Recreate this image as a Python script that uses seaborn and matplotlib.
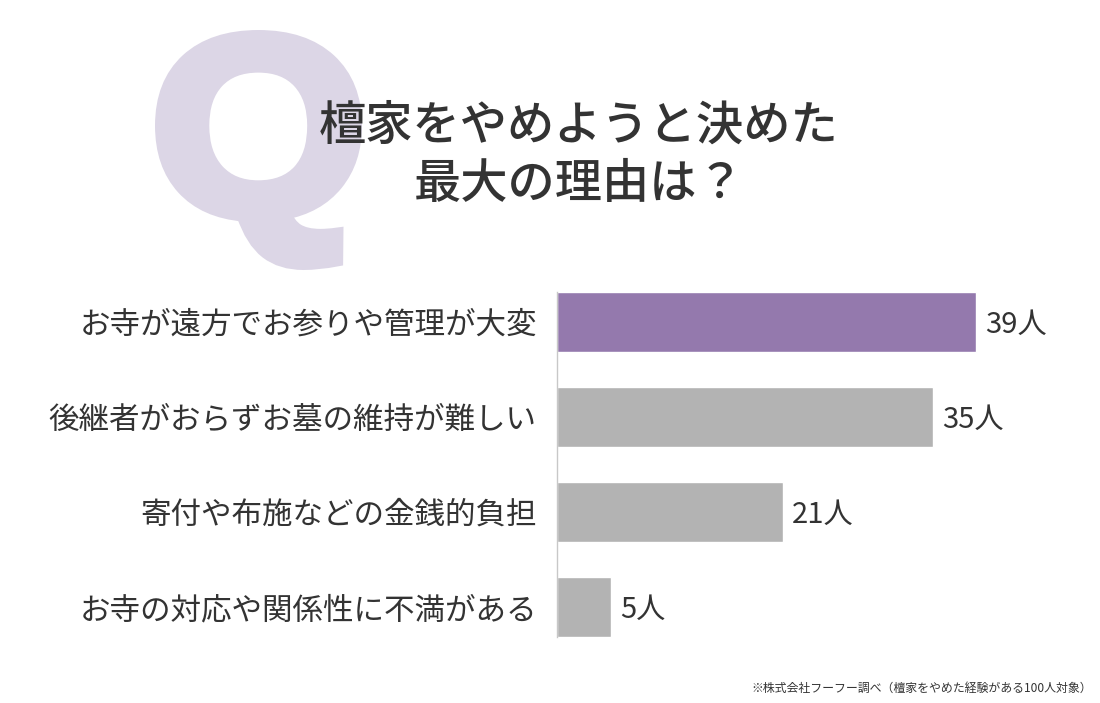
import seaborn as sns
import matplotlib.pyplot as plt
import pandas as pd
from matplotlib.textpath import TextPath
from matplotlib.patches import PathPatch
from matplotlib.font_manager import FontProperties
from matplotlib.transforms import Affine2D

# データ
reasons = [
    "お寺が遠方でお参りや管理が大変",
    "後継者がおらずお墓の維持が難しい",
    "寄付や布施などの金銭的負担",
    "お寺の対応や関係性に不満がある",
]
counts = [39, 35, 21, 5]
value_labels = ["39人", "35人", "21人", "5人"]
title_text = "檀家をやめようと決めた\n最大の理由は？"
source_text = "※株式会社フーフー調べ（檀家をやめた経験がある100人対象）"

bar_colors = ["#9479ad", "#b3b3b3", "#b3b3b3", "#b3b3b3"]
text_color = "#333333"
q_color = "#dcd6e6"

sns.set_theme(style="white")
plt.rcParams['font.family'] = ['Noto Sans CJK JP', 'DejaVu Sans']

W, H = 1100, 703
fig = plt.figure(figsize=(W / 100, H / 100), dpi=100)
fig.patch.set_facecolor("white")

# 大きな「Q」 (背景の飾り) - 輪郭線で太らせる
qpath = TextPath((0, 0), "Q", size=100,
                 prop=FontProperties(family="Liberation Sans", weight="bold"))
ext = qpath.get_extents()
grow = 7  # 線幅の半分 (px)
qx0, qx1, qy0, qy1 = 155 + grow, 362 - grow, 30 + grow, 270 - grow
tr = (Affine2D()
      .translate(-ext.x0, -ext.y0)
      .scale((qx1 - qx0) / ext.width, (qy1 - qy0) / ext.height)
      .translate(qx0, H - qy1)
      .scale(1 / W, 1 / H))
fig.patches.append(PathPatch(tr.transform_path(qpath), facecolor=q_color,
                             edgecolor=q_color, linewidth=grow * 2 * 0.72,
                             joinstyle="miter",
                             transform=fig.transFigure, zorder=0))

# タイトル
fig.text(579 / W, 1 - 155 / H, title_text, ha="center", va="center",
         fontsize=34, color=text_color, fontweight="medium",
         linespacing=1.25, zorder=2)

# 棒グラフ
ax = fig.add_axes([557 / W, 1 - 654.5 / H, 537 / W, 380 / H])
df = pd.DataFrame({"reason": reasons, "count": counts})
sns.barplot(data=df, x="count", y="reason", hue="reason", palette=bar_colors,
            width=0.63, legend=False, ax=ax, saturation=1)

ax.set_xlim(0, 50)
ax.set_ylim(3.5, -0.5)
ax.set_xlabel("")
ax.set_ylabel("")
ax.set_xticks([])
ax.tick_params(axis="y", length=0, pad=14.5, labelsize=22, labelcolor=text_color)
for s in ["top", "right", "bottom"]:
    ax.spines[s].set_visible(False)
ax.spines["left"].set_color("#c8c8c8")
ax.spines["left"].set_linewidth(1)
ax.spines["left"].set_bounds(-0.315, 3.315)
ax.set_facecolor("none")

for i, (v, lab) in enumerate(zip(counts, value_labels)):
    ax.annotate(lab, xy=(v, i), xytext=(7, -2), textcoords="offset points",
                ha="left", va="center", fontsize=21, color=text_color)

# 出典
fig.text(1092 / W, 1 - 688 / H, source_text, ha="right", va="center",
         fontsize=8.6, color=text_color)

plt.savefig("out.png", dpi=100, facecolor="white")
